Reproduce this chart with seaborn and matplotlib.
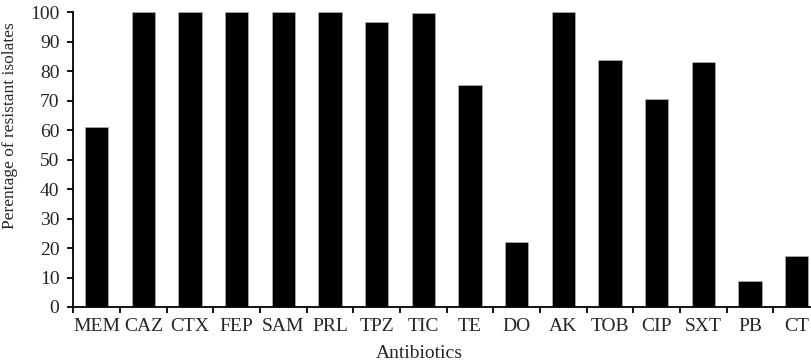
import numpy as np
import pandas as pd
import matplotlib
matplotlib.use('Agg')
import matplotlib.pyplot as plt
from matplotlib.ticker import FixedLocator
import seaborn as sns

sns.set_style('ticks')
plt.rcParams['font.family'] = ['Liberation Serif', 'DejaVu Serif']

antibiotics = ['MEM', 'CAZ', 'CTX', 'FEP', 'SAM', 'PRL', 'TPZ', 'TIC',
               'TE', 'DO', 'AK', 'TOB', 'CIP', 'SXT', 'PB', 'CT']
resistant_pct = [61, 100, 100, 100, 100, 100, 96.8, 99.6,
                 75.3, 22, 100, 83.8, 70.7, 83.1, 8.8, 17.4]

df = pd.DataFrame({'Antibiotics': antibiotics, 'pct': resistant_pct})

fig = plt.figure(figsize=(8.11, 3.64), dpi=100)
# axes runs past the right edge on purpose, last bar is cut off like the original
ax = fig.add_axes([0.0904, 0.1566, 0.9207, 0.8096])

sns.barplot(data=df, x='Antibiotics', y='pct', color='black', width=0.5,
            saturation=1, edgecolor='#bbbbbb', linewidth=0.4, ax=ax)

n = len(antibiotics)
ax.set_xlim(-0.5, n - 0.5)
ax.set_ylim(0, 100)
ax.set_yticks(np.arange(0, 101, 10))

ax.xaxis.set_minor_locator(FixedLocator(np.arange(-0.5, n, 1.0)))
ax.tick_params(axis='x', which='major', length=0, pad=8, labelsize=14)
ax.tick_params(axis='x', which='minor', length=4, width=1.3, direction='out', color='black')
ax.tick_params(axis='y', length=4, width=1.3, direction='out', pad=6, labelsize=14, color='black')

for s in ['top', 'right']:
    ax.spines[s].set_visible(False)
for s in ['left', 'bottom']:
    ax.spines[s].set_linewidth(1.3)
    ax.spines[s].set_color('black')

ax.set_xlabel('Antibiotics', fontsize=14)
ax.set_ylabel('Perentage of resistant isolates', fontsize=12.5)
ax.xaxis.set_label_coords(0.463, -0.13)
ax.yaxis.set_label_coords(-0.074, 0.614)

fig.savefig('out.png', dpi=100)
